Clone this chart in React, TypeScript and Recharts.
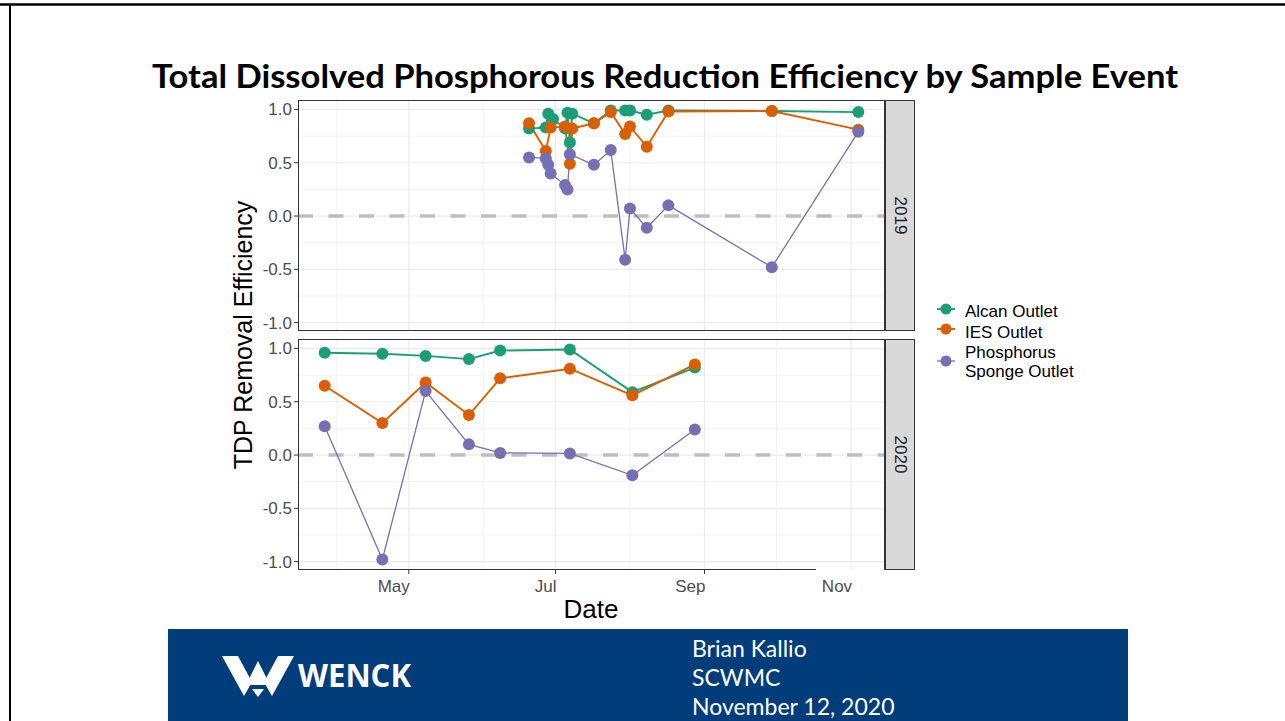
import React from 'react';
import { LineChart, Line, XAxis, YAxis, CartesianGrid, ReferenceLine } from 'recharts';

const seriesNames = ['Alcan Outlet', 'IES Outlet', 'Phosphorus Sponge Outlet'];
const seriesColors = ['#1B9E77', '#D95F02', '#7570B3'];
const seriesLineWidths = [1.9, 1.9, 1.3];

// 2019 sample events (month-day) and removal efficiencies
const alcanDates2019 = ['06-20', '06-27', '06-28', '06-30', '07-05', '07-06', '07-07', '07-08', '07-17', '07-24', '07-30', '08-01', '08-08', '08-17', '09-29', '11-04'];
const alcanValues2019 = [0.82, 0.83, 0.96, 0.91, 0.82, 0.97, 0.69, 0.96, 0.87, 0.99, 0.99, 0.99, 0.95, 0.99, 0.985, 0.975];
const iesDates2019 = ['06-20', '06-27', '06-29', '07-05', '07-07', '07-08', '07-17', '07-24', '07-30', '08-01', '08-08', '08-17', '09-29', '11-04'];
const iesValues2019 = [0.87, 0.61, 0.83, 0.84, 0.49, 0.82, 0.87, 0.975, 0.77, 0.84, 0.65, 0.98, 0.985, 0.81];
const spongeDates2019 = ['06-20', '06-27', '06-28', '06-29', '07-05', '07-06', '07-07', '07-17', '07-24', '07-30', '08-01', '08-08', '08-17', '09-29', '11-04'];
const spongeValues2019 = [0.55, 0.54, 0.48, 0.4, 0.29, 0.25, 0.58, 0.48, 0.62, -0.41, 0.07, -0.11, 0.1, -0.48, 0.79];

// 2020 sample events
const dates2020 = ['03-27', '04-20', '05-08', '05-26', '06-08', '07-07', '08-02', '08-28'];
const alcanValues2020 = [0.96, 0.95, 0.93, 0.9, 0.98, 0.99, 0.59, 0.82];
const iesValues2020 = [0.65, 0.3, 0.68, 0.375, 0.72, 0.81, 0.56, 0.85];
const spongeValues2020 = [0.27, -0.98, 0.6, 0.1, 0.02, 0.015, -0.19, 0.24];

const monthTicks = ['05-01', '07-01', '09-01', '11-01'];
const monthTickLabels = ['May', 'Jul', 'Sep', 'Nov'];
const minorMonthTicks = ['04-01', '06-01', '08-01', '10-01'];
const yTicks = [-1, -0.5, 0, 0.5, 1];
const yTickLabels = ['-1.0', '-0.5', '0.0', '0.5', '1.0'];
const yMinorTicks = [-0.75, -0.25, 0.25, 0.75];

const cumDays = [0, 31, 59, 90, 120, 151, 181, 212, 243, 273, 304, 334];
const dayOfYear = (md: string) => {
  const [m, d] = md.split('-').map(Number);
  return cumDays[m - 1] + d;
};
const toPoints = (dates: string[], values: number[]) =>
  dates.map((md, i) => ({ day: dayOfYear(md), value: values[i] }));

const panel2019 = [
  toPoints(alcanDates2019, alcanValues2019),
  toPoints(iesDates2019, iesValues2019),
  toPoints(spongeDates2019, spongeValues2019),
];
const panel2020 = [
  toPoints(dates2020, alcanValues2020),
  toPoints(dates2020, iesValues2020),
  toPoints(dates2020, spongeValues2020),
];

// ggplot-style 5% expansion of the shared scales
const allPoints = [...panel2019, ...panel2020].flat();
const dayMin = Math.min(...allPoints.map((p) => p.day));
const dayMax = Math.max(...allPoints.map((p) => p.day));
const valMin = Math.min(...allPoints.map((p) => p.value));
const valMax = Math.max(...allPoints.map((p) => p.value));
const xPad = (dayMax - dayMin) * 0.05;
const yPad = (valMax - valMin) * 0.05;
const xDomain = [dayMin - xPad, dayMax + xPad];
const yDomain = [valMin - yPad, valMax + yPad];

const majorDays = monthTicks.map(dayOfYear);
const minorDays = minorMonthTicks.map(dayOfYear);

const axisFont = 'Liberation Sans, Arial, sans-serif';

const MonthTick = (props: any) => {
  const idx = majorDays.indexOf(props.payload.value);
  return (
    <text x={props.x + 1} y={props.y + 16} textAnchor="end" fontSize={17} fill="#4D4D4D" fontFamily={axisFont}>
      {monthTickLabels[idx]}
    </text>
  );
};

const ValueTick = (props: any) => {
  const idx = yTicks.indexOf(props.payload.value);
  return (
    <text x={props.x} y={props.y + 6} textAnchor="end" fontSize={17} fill="#4D4D4D" fontFamily={axisFont}>
      {yTickLabels[idx]}
    </text>
  );
};

function Panel({ data, top, height, bottom, showX }: { data: { day: number; value: number }[][]; top: number; height: number; bottom: number; showX: boolean }) {
  return (
    <div style={{ position: 'absolute', left: 200, top, width: 720, height }}>
      <LineChart width={720} height={height} margin={{ top: 5, right: 35, bottom, left: 0 }}>
        <CartesianGrid stroke="#EFEFEF" strokeWidth={0.8} horizontalValues={yMinorTicks} verticalValues={minorDays} />
        <CartesianGrid stroke="#EBEBEB" strokeWidth={1.2} horizontalValues={yTicks} verticalValues={majorDays} />
        <XAxis
          type="number"
          dataKey="day"
          domain={xDomain}
          ticks={majorDays}
          interval={0}
          allowDataOverflow
          hide={!showX}
          height={30}
          tickSize={4}
          axisLine={false}
          tickLine={{ stroke: '#333333' }}
          tick={<MonthTick />}
        />
        <YAxis
          type="number"
          domain={yDomain}
          ticks={yTicks}
          interval={0}
          allowDataOverflow
          width={98}
          tickSize={4}
          axisLine={false}
          tickLine={{ stroke: '#333333' }}
          tick={<ValueTick />}
        />
        <ReferenceLine y={0} stroke="#BEBEBE" strokeWidth={3.5} strokeDasharray="15 15.5" />
        {data.map((pts, i) => (
          <Line
            key={'line-' + i}
            data={pts}
            dataKey="value"
            type="linear"
            stroke={seriesColors[i]}
            strokeWidth={seriesLineWidths[i]}
            dot={false}
            activeDot={false}
            isAnimationActive={false}
          />
        ))}
        {data.map((pts, i) => (
          <Line
            key={'pt-' + i}
            data={pts}
            dataKey="value"
            type="linear"
            stroke="none"
            dot={{ r: 6, fill: seriesColors[i], stroke: 'none' }}
            activeDot={false}
            isAnimationActive={false}
          />
        ))}
      </LineChart>
    </div>
  );
}

const legendRows = [
  { keyY: 309, lines: [{ text: seriesNames[0], y: 317 }] },
  { keyY: 329, lines: [{ text: seriesNames[1], y: 338 }] },
  { keyY: 361, lines: [{ text: 'Phosphorus', y: 358 }, { text: 'Sponge Outlet', y: 377 }] },
];

const footerLines = ['Brian Kallio', 'SCWMC', 'November 12, 2020'];

export default function App() {
  return (
    <div style={{ position: 'absolute', left: 0, top: 0, width: 1285, height: 721, background: '#ffffff', overflow: 'hidden' }}>
      <Panel data={panel2019} top={95} height={246} bottom={10} showX={false} />
      <Panel data={panel2020} top={334} height={266} bottom={0} showX={true} />
      <svg width={1285} height={721} style={{ position: 'absolute', left: 0, top: 0, pointerEvents: 'none' }}>
        {/* slide frame */}
        <line x1={0} y1={4.5} x2={1285} y2={4.5} stroke="#000" strokeWidth={2.4} />
        <line x1={10} y1={4} x2={10} y2={721} stroke="#000" strokeWidth={2} />

        <text x={665} y={88} textAnchor="middle" fontFamily="Lato, 'Open Sans', sans-serif" fontWeight={700} fontSize={33} fill="#000" textLength={1026} lengthAdjust="spacingAndGlyphs">
          Total Dissolved Phosphorous Reduction Efficiency by Sample Event
        </text>

        {/* panel borders and facet strips */}
        <rect x={298.5} y={100.5} width={586} height={230} fill="none" stroke="#333333" strokeWidth={1} />
        <rect x={298.5} y={339.5} width={586} height={230} fill="none" stroke="#333333" strokeWidth={1} />
        <rect x={885.5} y={100.5} width={29} height={230} fill="#D9D9D9" stroke="#333333" strokeWidth={1} />
        <rect x={885.5} y={339.5} width={29} height={230} fill="#D9D9D9" stroke="#333333" strokeWidth={1} />
        <text x={900} y={215.5} transform="rotate(90 900 215.5)" textAnchor="middle" dominantBaseline="central" fontSize={17} fill="#1A1A1A" fontFamily={axisFont}>2019</text>
        <text x={900} y={454.5} transform="rotate(90 900 454.5)" textAnchor="middle" dominantBaseline="central" fontSize={17} fill="#1A1A1A" fontFamily={axisFont}>2020</text>
        <rect x={816} y={569} width={68} height={10} fill="#ffffff" />

        {/* axis titles */}
        <text x={243} y={335} transform="rotate(-90 243 335)" textAnchor="middle" dominantBaseline="central" fontSize={25} fill="#000" fontFamily={axisFont}>TDP Removal Efficiency</text>
        <text x={591} y={618} textAnchor="middle" fontSize={26} fill="#000" fontFamily={axisFont}>Date</text>

        {/* legend */}
        {legendRows.map((row, i) => (
          <g key={i}>
            <line x1={937} y1={row.keyY} x2={955} y2={row.keyY} stroke={seriesColors[i]} strokeWidth={seriesLineWidths[i]} />
            <circle cx={946} cy={row.keyY} r={5.5} fill={seriesColors[i]} />
            {row.lines.map((l, j) => (
              <text key={j} x={965} y={l.y} fontSize={17} fill="#000" fontFamily={axisFont}>{l.text}</text>
            ))}
          </g>
        ))}

        {/* footer band */}
        <rect x={168} y={629} width={960} height={92} fill="#023D7B" />
        <polygon points="222,656 238,656 252,682 244,696" fill="#fff" />
        <polygon points="294,656 278,656 264,682 272,696" fill="#fff" />
        <polygon points="258,661 270,685 246,685" fill="#fff" />
        <polygon points="252,689 264,689 258,697" fill="#fff" />
        <text x={298} y={687} fontFamily="'Open Sans', sans-serif" fontWeight={700} fontSize={32} fill="#fff" textLength={113} lengthAdjust="spacingAndGlyphs">WENCK</text>
        {footerLines.map((t, i) => (
          <text key={t} x={692} y={657 + i * 29} fontFamily="Lato, sans-serif" fontSize={23} fill="#fff">{t}</text>
        ))}
      </svg>
    </div>
  );
}
